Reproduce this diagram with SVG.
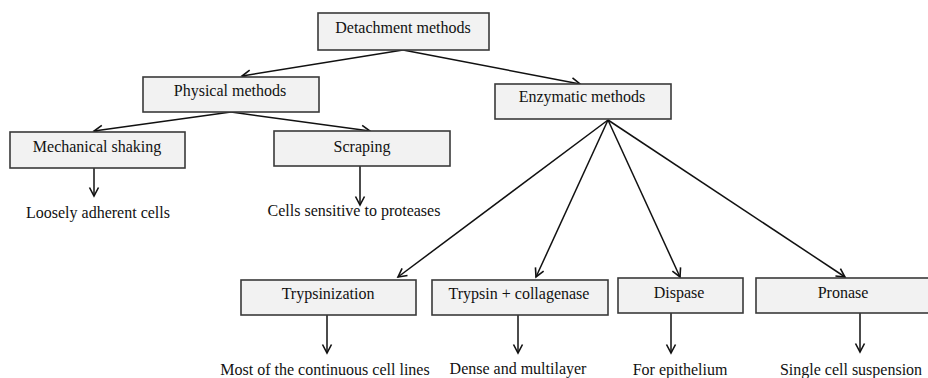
<svg xmlns="http://www.w3.org/2000/svg" width="928" height="378" viewBox="0 0 928 378">
  <style>
    .box { fill: #f2f2f2; stroke: #3a3a3a; stroke-width: 1.6; }
    .lbl { font-size: 16px; fill: #111; text-anchor: middle; }
    .edge { stroke: #111; stroke-width: 1.5; fill: none; marker-end: url(#vhead); }
  </style>
  <defs>
    <marker id="vhead" markerUnits="userSpaceOnUse" markerWidth="14" markerHeight="14" viewBox="-10 -7 12 14" refX="0" refY="0" orient="auto">
      <path d="M-8.5,-4.5 L0,0 L-8.5,4.5" fill="none" stroke="#111" stroke-width="1.6"/>
    </marker>
  </defs>
  <rect width="928" height="378" fill="#ffffff"/>

  <!-- connectors -->
  <g id="connectors">
    <line class="edge" x1="403" y1="50" x2="242" y2="76"/>
    <line class="edge" x1="403" y1="50" x2="580" y2="84"/>
    <line class="edge" x1="231" y1="112" x2="94" y2="131"/>
    <line class="edge" x1="231" y1="112" x2="370" y2="131"/>
    <line class="edge" x1="94" y1="168" x2="94" y2="196"/>
    <line class="edge" x1="360" y1="166" x2="360" y2="205"/>
    <line class="edge" x1="608" y1="120" x2="398" y2="277"/>
    <line class="edge" x1="608" y1="120" x2="536" y2="277"/>
    <line class="edge" x1="608" y1="120" x2="680" y2="277"/>
    <line class="edge" x1="608" y1="120" x2="845" y2="277"/>
    <line class="edge" x1="327" y1="315" x2="327" y2="353"/>
    <line class="edge" x1="518" y1="315" x2="518" y2="353"/>
    <line class="edge" x1="671" y1="313" x2="671" y2="353"/>
    <line class="edge" x1="860" y1="313" x2="860" y2="352"/>
  </g>

  <g font-family="Liberation Serif, DejaVu Serif, serif">
    <g id="detachment">
      <rect class="box" x="318" y="13" width="171" height="37"/>
      <text class="lbl" x="403" y="33">Detachment methods</text>
    </g>
    <g id="physical">
      <rect class="box" x="143" y="77" width="176" height="35"/>
      <text class="lbl" x="230" y="96">Physical methods</text>
    </g>
    <g id="enzymatic">
      <rect class="box" x="495" y="84" width="176" height="35"/>
      <text class="lbl" x="582" y="102">Enzymatic methods</text>
    </g>
    <g id="mechanical">
      <rect class="box" x="10" y="132" width="175" height="36"/>
      <text class="lbl" x="97" y="152">Mechanical shaking</text>
    </g>
    <g id="loosely">
      <text class="lbl" x="98" y="218">Loosely adherent cells</text>
    </g>
    <g id="scraping">
      <rect class="box" x="274" y="131" width="176" height="35"/>
      <text class="lbl" x="362" y="152">Scraping</text>
    </g>
    <g id="sensitive">
      <text class="lbl" x="354" y="216">Cells sensitive to proteases</text>
    </g>
    <g id="trypsinization">
      <rect class="box" x="241" y="280" width="175" height="35"/>
      <text class="lbl" x="328" y="299">Trypsinization</text>
    </g>
    <g id="continuous">
      <text class="lbl" x="325" y="375">Most of the continuous cell lines</text>
    </g>
    <g id="trypsin-collagenase">
      <rect class="box" x="432" y="280" width="176" height="35"/>
      <text class="lbl" x="519" y="299">Trypsin + collagenase</text>
    </g>
    <g id="dense">
      <text class="lbl" x="518" y="374">Dense and multilayer</text>
    </g>
    <g id="dispase">
      <rect class="box" x="618" y="278" width="125" height="35"/>
      <text class="lbl" x="679" y="298">Dispase</text>
    </g>
    <g id="epithelium">
      <text class="lbl" x="680" y="375">For epithelium</text>
    </g>
    <g id="pronase">
      <rect class="box" x="756" y="278" width="173" height="35"/>
      <text class="lbl" x="843" y="298">Pronase</text>
    </g>
    <g id="single">
      <text class="lbl" x="851" y="375">Single cell suspension</text>
    </g>
  </g>
</svg>
